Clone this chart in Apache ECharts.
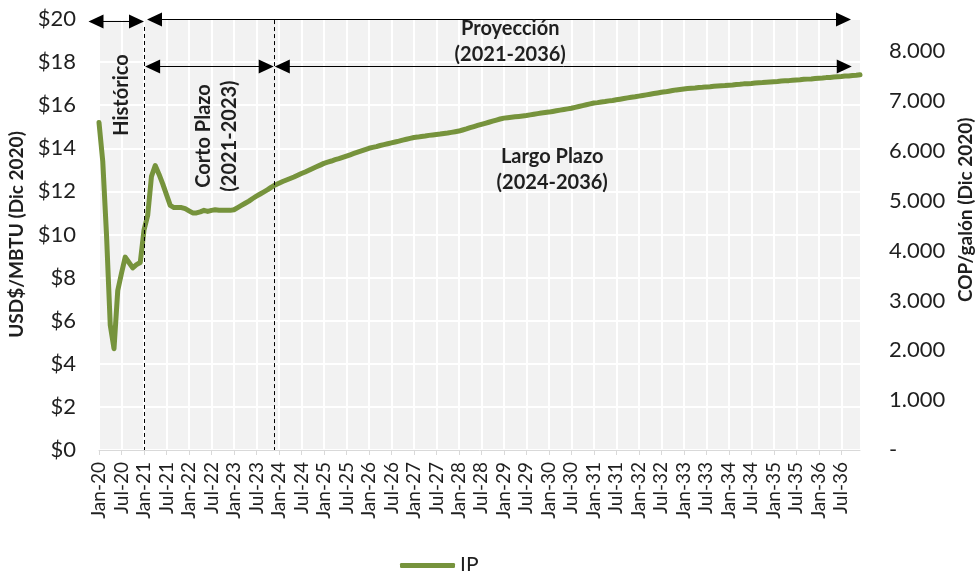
<!DOCTYPE html>
<html>
<head>
<meta charset="utf-8">
<script src="https://cdn.jsdelivr.net/npm/echarts@6/dist/echarts.min.js"></script>
<style>
  html, body { margin: 0; padding: 0; background: #fff; }
  #chart { width: 979px; height: 571px; }
</style>
</head>
<body>
<div id="chart"></div>
<script>
// categorias mensuales Jan-20 ... Dec-36
var years = ['20','21','22','23','24','25','26','27','28','29','30','31','32','33','34','35','36'];
var months = ['Jan','Feb','Mar','Apr','May','Jun','Jul','Aug','Sep','Oct','Nov','Dec'];
var categories = [];
years.forEach(function (y) { months.forEach(function (m) { categories.push(m + '-' + y); }); });

// IP, USD$/MBTU (Dic 2020)
var ip20 = [15.2, 13.4, 10.0, 5.8, 4.7, 7.4, 8.2, 8.95, 8.7, 8.45, 8.6, 8.7];
var ip21 = [10.2, 10.9, 12.7, 13.2, 12.8, 12.35, 11.85, 11.35, 11.25, 11.25, 11.25, 11.2];
var ip22 = [11.1, 11.0, 11.0, 11.05, 11.12, 11.07, 11.12, 11.15, 11.13, 11.12, 11.12, 11.12];
var ip23 = [11.15, 11.25, 11.35, 11.45, 11.55, 11.67, 11.78, 11.88, 11.98, 12.08, 12.2, 12.3];
var ip24 = [12.38, 12.46, 12.53, 12.6, 12.67, 12.75, 12.83, 12.9, 12.98, 13.06, 13.14, 13.22];
var ip25 = [13.3, 13.36, 13.41, 13.47, 13.52, 13.58, 13.64, 13.7, 13.76, 13.82, 13.88, 13.94];
var ip26 = [14.0, 14.04, 14.08, 14.13, 14.17, 14.21, 14.25, 14.29, 14.33, 14.38, 14.42, 14.46];
var ip27 = [14.5, 14.52, 14.55, 14.57, 14.6, 14.62, 14.64, 14.66, 14.69, 14.71, 14.74, 14.77];
var ip28 = [14.8, 14.85, 14.9, 14.96, 15.01, 15.06, 15.11, 15.16, 15.21, 15.26, 15.31, 15.36];
var ip29 = [15.4, 15.42, 15.44, 15.46, 15.48, 15.5, 15.52, 15.55, 15.58, 15.61, 15.64, 15.66];
var ip30 = [15.68, 15.71, 15.74, 15.77, 15.8, 15.83, 15.86, 15.9, 15.94, 15.98, 16.02, 16.06];
var ip31 = [16.1, 16.12, 16.15, 16.17, 16.2, 16.22, 16.25, 16.28, 16.31, 16.34, 16.37, 16.39];
var ip32 = [16.42, 16.45, 16.48, 16.51, 16.54, 16.57, 16.6, 16.62, 16.65, 16.68, 16.71, 16.73];
var ip33 = [16.75, 16.77, 16.79, 16.8, 16.82, 16.83, 16.85, 16.86, 16.88, 16.89, 16.9, 16.91];
var ip34 = [16.93, 16.94, 16.96, 16.97, 16.99, 17.0, 17.01, 17.03, 17.04, 17.05, 17.07, 17.08];
var ip35 = [17.09, 17.1, 17.12, 17.13, 17.14, 17.16, 17.17, 17.18, 17.2, 17.21, 17.22, 17.24];
var ip36 = [17.25, 17.26, 17.28, 17.29, 17.31, 17.32, 17.33, 17.35, 17.36, 17.38, 17.39, 17.41];
var ipValues = [].concat(ip20, ip21, ip22, ip23, ip24, ip25, ip26, ip27, ip28, ip29,
                         ip30, ip31, ip32, ip33, ip34, ip35, ip36);

var FONT = 'Lato';
var GREEN = '#76933c';
var TXT = '#1f1f1f';

var chart = echarts.init(document.getElementById('chart'));

chart.setOption({
    backgroundColor: '#fff',
    animation: false,
    textStyle: { fontFamily: FONT },
    grid: {
        left: 99, right: 119, top: 19, bottom: 121,
        outerBoundsMode: 'none',
        show: true, backgroundColor: '#f2f2f2', borderWidth: 0
    },
    legend: {
        left: 395, top: 550,
        icon: 'roundRect', itemWidth: 55, itemHeight: 5, itemGap: 4,
        textStyle: { fontFamily: FONT, fontSize: 21, color: TXT, padding: [0, 0, 0, 0] },
        data: ['IP']
    },
    xAxis: {
        type: 'category',
        data: categories,
        boundaryGap: false,
        axisLine: { show: true, lineStyle: { color: '#d9d9d9', width: 1 } },
        axisTick: { show: true, interval: 5, length: 5, lineStyle: { color: '#d9d9d9' } },
        splitLine: { show: true, interval: 5, lineStyle: { color: '#fff', width: 2 } },
        axisLabel: {
            interval: 5, rotate: 90, margin: 12,
            fontFamily: FONT, fontSize: 19, color: TXT
        }
    },
    yAxis: [{
        type: 'value',
        min: 0, max: 20, interval: 2,
        name: 'USD$/MBTU (Dic 2020)',
        nameLocation: 'middle', nameRotate: 90, nameGap: 72,
        nameTextStyle: { fontFamily: FONT, fontSize: 19, fontWeight: 'bold', color: TXT },
        axisLine: { show: false }, axisTick: { show: false },
        splitLine: { show: true, lineStyle: { color: '#fff', width: 2 } },
        axisLabel: {
            margin: 23, fontFamily: FONT, fontSize: 22, color: TXT,
            formatter: function (v) { return '$' + v; }
        }
    }, {
        type: 'value',
        min: 0, max: 8650, interval: 1000,
        axisLine: { show: false }, axisTick: { show: false },
        splitLine: { show: false },
        axisLabel: {
            margin: 29, fontFamily: FONT, fontSize: 22, color: TXT, showMaxLabel: false,
            formatter: function (v) { return v === 0 ? '-' : (v / 1000).toFixed(3); }
        }
    }],
    series: [{
        name: 'IP',
        type: 'line',
        data: ipValues,
        yAxisIndex: 0,
        symbol: 'none',
        lineStyle: { color: GREEN, width: 5, cap: 'round', join: 'round' },
        itemStyle: { color: GREEN }
    }]
});

// anotaciones en coordenadas de datos (indice de mes, valor)
function px(idx, v) {
    var a = chart.convertToPixel({ gridIndex: 0 }, [0, v]);
    var b = chart.convertToPixel({ gridIndex: 0 }, [categories.length - 1, v]);
    return [a[0] + (b[0] - a[0]) * idx / (categories.length - 1), a[1]];
}

function dArrow(i1, i2, v) {
    var p1 = px(i1, v), p2 = px(i2, v), y = Math.round(p1[1]) + 0.5;
    var L = 15, W = 7;
    return [
        { type: 'line', shape: { x1: p1[0] + 4, y1: y, x2: p2[0] - 4, y2: y },
          style: { stroke: '#000', lineWidth: 1 }, z: 100 },
        { type: 'polygon', shape: { points: [[p1[0], y], [p1[0] + L, y - W], [p1[0] + L, y + W]] },
          style: { fill: '#000' }, z: 100 },
        { type: 'polygon', shape: { points: [[p2[0], y], [p2[0] - L, y - W], [p2[0] - L, y + W]] },
          style: { fill: '#000' }, z: 100 }
    ];
}

function dashV(idx, vTop) {
    var t = px(idx, vTop), b = px(idx, 0);
    var x = Math.round(t[0]) + 0.5;
    return { type: 'line', shape: { x1: x, y1: t[1], x2: x, y2: b[1] },
             style: { stroke: '#000', lineWidth: 1, lineDash: [4, 3] }, z: 90 };
}

function label(idx, v, text, rot, size) {
    var p = px(idx, v);
    return { type: 'text', x: p[0], y: p[1], rotation: rot ? Math.PI / 2 : 0,
             style: { text: text, fill: TXT, font: 'bold ' + (size || 20) + 'px ' + FONT,
                      align: 'center', verticalAlign: 'middle', lineHeight: 26 }, z: 100 };
}

var graphics = [];
graphics.push(dashV(12, 19.63));
graphics.push(dashV(46.6, 19.95));
graphics = graphics.concat(dArrow(-2.8, 12, 19.9));
graphics = graphics.concat(dArrow(12.8, 200.6, 20.02));
graphics = graphics.concat(dArrow(12.3, 46.6, 17.8));
graphics = graphics.concat(dArrow(46.9, 200.8, 17.82));
graphics.push(label(6, 16.47, 'Histórico', true));
graphics.push(label(31.4, 14.57, 'Corto Plazo\n(2021-2023)', true));
graphics.push(label(109.7, 18.97, 'Proyección\n(2021-2036)', false));
graphics.push(label(120.9, 13.0, 'Largo Plazo\n(2024-2036)', false));

// titulo del eje derecho
var rp = px(categories.length - 1, 11.15);
graphics.push({ type: 'text', x: rp[0] + 106, y: rp[1], rotation: Math.PI / 2,
                style: { text: 'COP/galón (Dic 2020)', fill: TXT, font: 'bold 19px ' + FONT,
                         align: 'center', verticalAlign: 'middle' }, z: 100 });

chart.setOption({ graphic: graphics });
</script>
</body>
</html>
